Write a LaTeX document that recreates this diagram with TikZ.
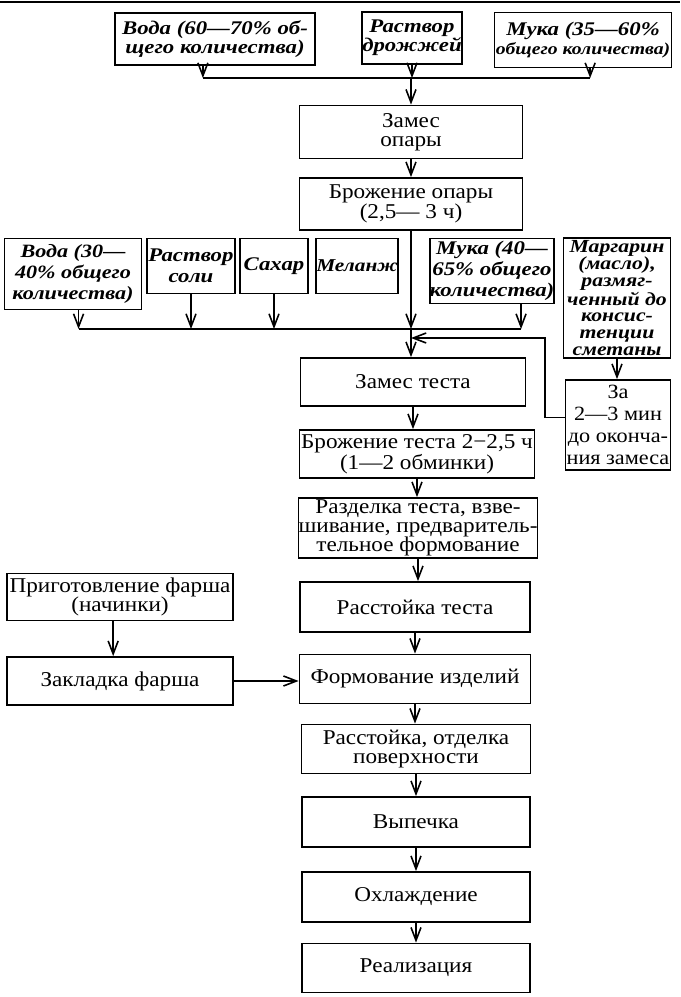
\documentclass[tikz,border=0pt]{standalone}
\usepackage{fontspec}
\setmainfont{Liberation Serif}[FakeStretch=1.1]
\newfontfamily\ingfont{Liberation Serif}[FakeStretch=1.18]
\usetikzlibrary{arrows.meta,calc}

\tikzset{
  stepbox/.style={draw, line width=1pt, align=center, inner sep=0pt,
    font=\fontsize{12}{11}\selectfont},
  ingbox/.style={stepbox, font=\ingfont\bfseries\itshape\fontsize{11}{12}\selectfont},
  wh/.style 2 args={minimum width=#1*0.02cm, minimum height=#2*0.02cm},
  arr/.style={-{Straight Barb[length=2.6mm,width=2mm]}, line width=0.9pt},
  link/.style={line width=0.9pt},
}

\begin{document}
\begin{tikzpicture}[x=0.02cm, y=-0.02cm]
  \useasboundingbox (0,0) rectangle (680,997);
  \draw[line width=1pt] (0,2) -- (680,2);

  % ingredients for the sponge
  \node[ingbox, wh={200}{52}, font=\ingfont\bfseries\itshape\fontsize{11}{11}\selectfont]
    (w1) at (215,39) {Вода (60—70\% об-\\щего количества)};
  \node[ingbox, wh={96}{52}, font=\ingfont\bfseries\itshape\fontsize{11}{11}\selectfont]
    (rd) at (412,38) {Раствор\\дрожжей};
  \node[ingbox, wh={177}{55}, font=\ingfont\bfseries\itshape\fontsize{11}{11}\selectfont]
    (m1) at (583,40) {Мука (35—60\%\\{\fontsize{9.5}{11}\selectfont общего количества)}};

  % main line
  \node[stepbox, wh={223}{53}] (zo) at (411,132) {Замес\\опары};
  \node[stepbox, wh={223}{52}] (bo) at (411,204) {Брожение опары\\(2,5— 3 ч)};

  % ingredients for the dough
  \node[ingbox, wh={137}{71}, font=\ingfont\bfseries\itshape\fontsize{10.7}{12}\selectfont]
    (v2) at (73,274) {Вода (30—\\40\% общего\\количества)};
  \node[ingbox, wh={88}{55}]  (rs) at (191,266) {Раствор\\соли};
  \node[ingbox, wh={68}{55}]  (sh) at (274,266) {Сахар};
  \node[ingbox, wh={82}{55}, font=\ingfont\bfseries\itshape\fontsize{10.3}{12}\selectfont]
    (ml) at (357,266) {Меланж};
  \node[ingbox, wh={122}{65}] (m2) at (492,271) {Мука (40—\\65\% общего\\количества)};
  \node[ingbox, wh={107}{120}, font=\ingfont\bfseries\itshape\fontsize{10.5}{9.6}\selectfont]
    (mg) at (617,298) {Маргарин\\(масло),\\размяг-\\ченный до\\консис-\\тенции\\сметаны};
  \node[stepbox, wh={105}{90}, font=\fontsize{11.5}{12.5}\selectfont]
    (za) at (618,425) {За\\2—3 мин\\до оконча-\\ния замеса};

  \node[stepbox, wh={225}{48}] (zt) at (413,382) {Замес теста};
  \node[stepbox, wh={235}{48}] (bt) at (417,454) {Брожение теста 2−2,5 ч\\(1—2 обминки)};
  \node[stepbox, wh={238}{60}] (rz) at (418,528)
    {Разделка теста, взве-\\шивание, предваритель-\\тельное формование};
  \node[stepbox, wh={230}{50}] (rt) at (415,607) {Расстойка теста};
  \node[stepbox, wh={231}{49}] (fi) at (415,679) {Формование изделий};
  \node[stepbox, wh={229}{49}] (ro) at (416,749) {Расстойка, отделка\\поверхности};
  \node[stepbox, wh={228}{50}] (vp) at (416,822) {Выпечка};
  \node[stepbox, wh={228}{50}] (oh) at (416,897) {Охлаждение};
  \node[stepbox, wh={228}{49}] (re) at (416,968) {Реализация};

  % filling
  \node[stepbox, wh={226}{47}] (pf) at (120,597) {Приготовление фарша\\(начинки)};
  \node[stepbox, wh={226}{48}] (zf) at (120,681) {Закладка фарша};

  \coordinate (j1) at (411,78);
  \coordinate (j2) at (411,329);
  \coordinate (j3) at (411,338);
  \coordinate (j4) at (545,338);
  \coordinate (w1a) at ($(w1.south west)!.44!(w1.south east)$);
  \coordinate (m1a) at ($(m1.south west)!.54!(m1.south east)$);
  \coordinate (v2a) at ($(v2.south west)!.54!(v2.south east)$);
  \coordinate (m2a) at ($(m2.south west)!.73!(m2.south east)$);
  \coordinate (zaa) at ($(za.north west)!.42!(za.south west)$);
  \coordinate (pfa) at ($(pf.south west)!.47!(pf.south east)$);

  \foreach \n in {w1a,m1a}
    \draw[arr] (\n) -- (\n |- j1);
  \draw[arr] (rd.south) -- (rd.south |- j1);
  \draw[link] (w1a |- j1) -- (m1a |- j1);
  \draw[arr] (j1) -- (j1 |- zo.north);

  \foreach \n in {v2a,rs.south,sh.south,m2a}
    \draw[arr] (\n) -- (\n |- j2);
  \draw[link] (v2a |- j2) -- (m2a |- j2);
  \draw[arr] (j1 |- bo.south) -- (j2);
  \draw[arr] (j2) -- (j2 |- zt.north);

  \draw[arr] (mg.south) -- (mg.south |- za.north);
  \draw[arr] (zaa) -| (j4) -- (j3);

  \draw[arr] (j1 |- zo.south) -- (j1 |- bo.north);
  \foreach \a/\b in {zt/bt, bt/rz, rz/rt, rt/fi, fi/ro, ro/vp, vp/oh, oh/re}
    \draw[arr] (\a.south) -- (\a.south |- \b.north);

  \draw[arr] (pfa) -- (pfa |- zf.north);
  \draw[arr] (zf.east) -- (zf.east -| fi.west);
\end{tikzpicture}
\end{document}
